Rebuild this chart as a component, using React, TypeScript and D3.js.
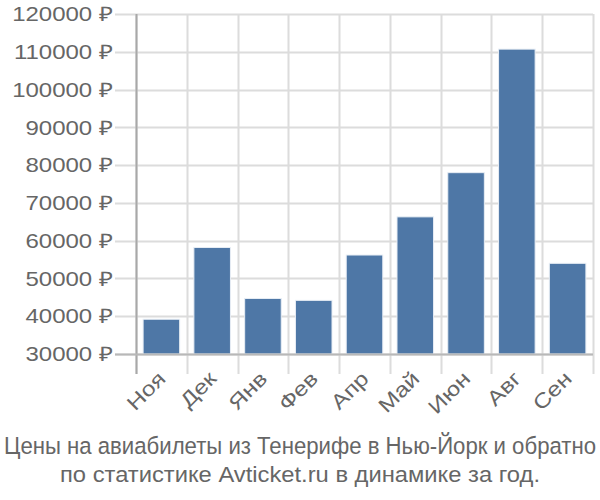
import React from "react";
import * as d3 from "d3";

const categories = ["Ноя", "Дек", "Янв", "Фев", "Апр", "Май", "Июн", "Авг", "Сен"];
const values = [39200, 58200, 44700, 44200, 56200, 66300, 78000, 110700, 54000];
const yTicks = [30000, 40000, 50000, 60000, 70000, 80000, 90000, 100000, 110000, 120000];
const titleLines = [
  "Цены на авиабилеты из Тенерифе в Нью-Йорк и обратно",
  "по статистике Avticket.ru в динамике за год.",
];

export default function App() {
  const W = 600, H = 500;
  const left = 136, right = 593, top = 14, bottom = 354;
  const x = d3.scaleBand<string>().domain(categories).range([left, right]).paddingInner(0.28).paddingOuter(0.14);
  const y = d3.scaleLinear().domain([30000, 120000]).range([bottom, top]);
  const step = x.step();
  const bounds = d3.range(categories.length + 1).map((i) => left + i * step);
  const font = "'Liberation Sans', Arial, sans-serif";
  const sx = 1.2;
  const titleLen = [592, 480];
  const titleSize = [22.2, 21.5];
  return (
    <svg width={W} height={H} style={{ position: "absolute", left: 0, top: 0 }}>
      <rect width={W} height={H} fill="#fff" />
      {yTicks.map((t) => (
        <line key={"h" + t} x1={115} x2={right} y1={Math.round(y(t)) + 0.5} y2={Math.round(y(t)) + 0.5} stroke="#dcdcdc" strokeWidth={2} />
      ))}
      {bounds.map((b, i) => (
        <line key={"v" + i} x1={Math.round(b) + 0.5} x2={Math.round(b) + 0.5} y1={top} y2={374} stroke="#dcdcdc" strokeWidth={2} />
      ))}
      {categories.map((c, i) => (
        <rect key={c} x={x(c)} y={y(values[i])} width={x.bandwidth()} height={bottom - y(values[i])} fill="#4e77a6" stroke="#e8eef5" strokeWidth={1} />
      ))}
      <line x1={136.5} x2={136.5} y1={top} y2={374} stroke="#a8a8a8" strokeWidth={2} />
      <line x1={115} x2={right} y1={bottom + 0.5} y2={bottom + 0.5} stroke="#b8b8b8" strokeWidth={2} />
      {yTicks.map((t) => (
        <text key={"t" + t} transform={`translate(113 ${y(t)}) scale(${sx} 1)`} dy="0.36em" textAnchor="end" fontSize={20} fill="#666" fontFamily={font}>
          {t + " ₽"}
        </text>
      ))}
      {categories.map((c) => {
        const cx = (x(c) as number) + x.bandwidth() / 2 + 5.5;
        const cy = 380;
        return (
          <text key={"x" + c} textAnchor="end" fontSize={20.5} fill="#666" fontFamily={font} transform={`translate(${cx} ${cy}) rotate(-45) scale(${sx} 1)`}>
            {c}
          </text>
        );
      })}
      {titleLines.map((l, i) => (
        <text key={"tl" + i} transform={`translate(300 ${454 + i * 28}) scale(1 1.06)`} textAnchor="middle" fontSize={titleSize[i]} fill="#666" fontFamily={font} textLength={titleLen[i]} lengthAdjust="spacingAndGlyphs">
          {l}
        </text>
      ))}
    </svg>
  );
}
